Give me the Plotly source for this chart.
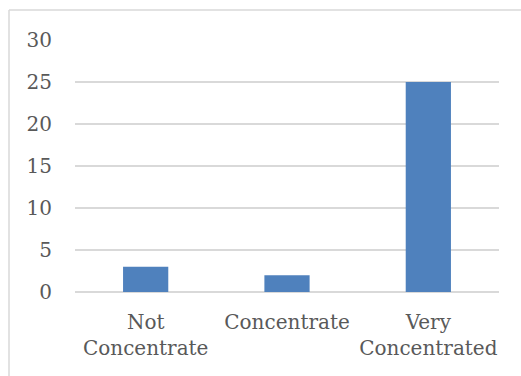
import plotly.graph_objects as go

categories = ["Not<br>Concentrate", "Concentrate", "Very<br>Concentrated"]
values = [3, 2, 25]
y_ticks = [0, 5, 10, 15, 20, 25, 30]

W, H = 521, 376
L, R, T, B = 75, 22, 40, 84
pw = W - L - R
ph = H - T - B

def px_x(x):
    return (x - L) / pw

def px_y(y):
    return 1 - (y - T) / ph

fig = go.Figure(go.Bar(x=categories, y=values, marker=dict(color="#4F81BD", line=dict(width=0))))

fig.update_layout(
    width=W, height=H,
    margin=dict(l=L, r=R, t=T, b=B, pad=0),
    paper_bgcolor="white", plot_bgcolor="white",
    bargap=0.68,
    showlegend=False,
    font=dict(family="DejaVu Serif", size=20, color="#595959"),
    xaxis=dict(showgrid=False, showline=False, ticks="", ticklabelstandoff=16, tickfont=dict(size=20)),
    yaxis=dict(range=[0, 30], tickvals=y_ticks, showgrid=True, gridcolor="#D9D9D9", gridwidth=1.5,
               zeroline=True, zerolinecolor="#D9D9D9", zerolinewidth=1.5, ticks="", ticklen=0,
               ticklabelstandoff=22, tickfont=dict(size=20)),
    shapes=[
        dict(type="line", xref="paper", yref="paper", x0=px_x(9), x1=px_x(530), y0=px_y(10), y1=px_y(10),
             line=dict(color="#D9D9D9", width=1.5)),
        dict(type="line", xref="paper", yref="paper", x0=px_x(9), x1=px_x(9), y0=px_y(10), y1=px_y(390),
             line=dict(color="#D9D9D9", width=1.5)),
    ],
)
fig.update_yaxes(automargin=False)
fig.update_xaxes(automargin=False)

fig.write_html("out.html")
